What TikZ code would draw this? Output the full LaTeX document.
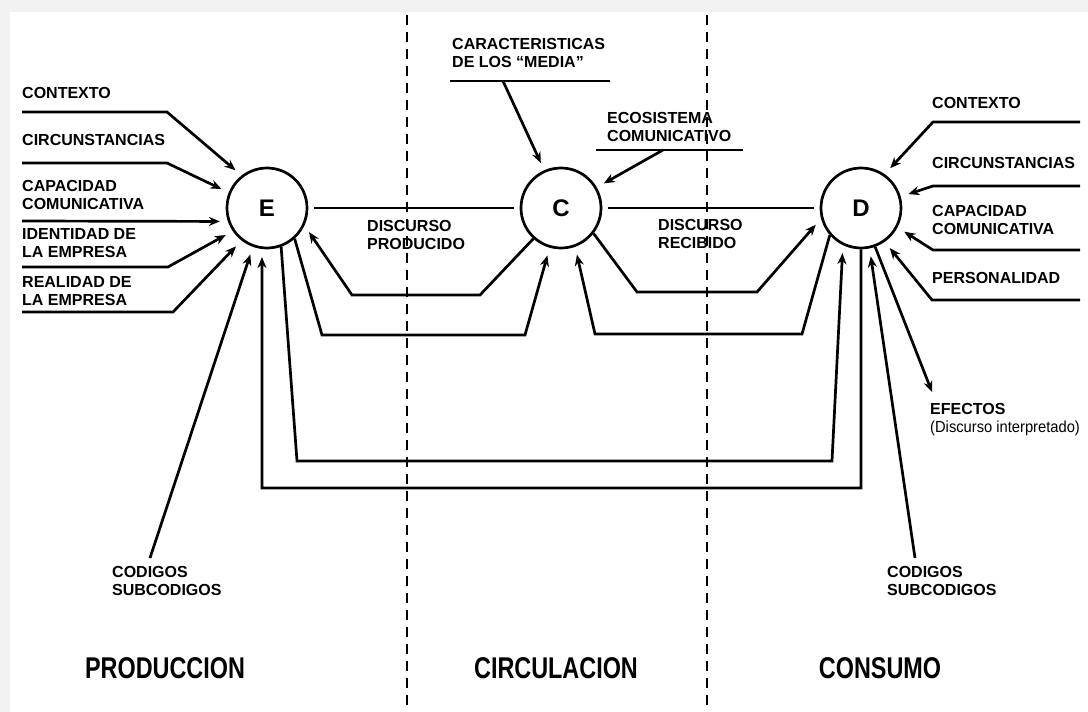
\documentclass[tikz,border=0pt]{standalone}
\usepackage{graphicx}
\usepackage{fontspec}
\setmainfont{Liberation Sans}
\usetikzlibrary{arrows.meta}

\begin{document}
\begin{tikzpicture}[x=1pt,y=-1pt,
    linea/.style={line width=2.7pt},
    flecha/.style={linea,-{Stealth[length=11pt,width=9pt]},shorten >=8pt},
    polo/.style={circle,draw,line width=2.7pt,minimum size=80pt,inner sep=0pt,
      font=\fontsize{24}{24}\selectfont\bfseries},
    etiq/.style={anchor=west,align=left,inner sep=0pt,
      font=\fontsize{16}{18}\selectfont\bfseries},
    fase/.style={inner sep=0pt,font=\fontsize{30}{30}\selectfont\bfseries},
    zona/.style={line width=2pt,dash pattern=on 10pt off 7pt}]

  % fondo y margenes
  \fill[gray!10] (0,0) rectangle (1088,712);
  \fill[white] (10,12) rectangle (1088,712);
  \useasboundingbox (0,0) rectangle (1088,712);

  % zonas
  \draw[zona] (407,15) -- (407,712);
  \draw[zona] (707,15) -- (707,712);

  % polos
  \node[polo] (E) at (267,208) {E};
  \node[polo] (C) at (561,208) {C};
  \node[polo] (D) at (861,208) {D};

  % etiquetas de E
  \node[etiq] (ctxI) at (22,93) {CONTEXTO};
  \node[etiq] (cirI) at (22,140) {CIRCUNSTANCIAS};
  \node[etiq] (capI) at (22,195) {CAPACIDAD\\COMUNICATIVA};
  \node[etiq] (ideI) at (22,243) {IDENTIDAD DE\\LA EMPRESA};
  \node[etiq] (reaI) at (22,291) {REALIDAD DE\\LA EMPRESA};
  \node[etiq] (codI) at (112,581) {CODIGOS\\SUBCODIGOS};

  % etiquetas de C
  \node[etiq] (carC) at (452,53) {CARACTERISTICAS\\DE LOS ``MEDIA''};
  \node[etiq] (ecoC) at (607,127) {ECOSISTEMA\\COMUNICATIVO};
  \node[etiq] (prod) at (367,235) {DISCURSO\\PRODUCIDO};
  \node[etiq] (reci) at (658,234) {DISCURSO\\RECIBIDO};

  % etiquetas de D
  \node[etiq] (ctxD) at (932,103) {CONTEXTO};
  \node[etiq] (cirD) at (932,163) {CIRCUNSTANCIAS};
  \node[etiq] (capD) at (932,220) {CAPACIDAD\\COMUNICATIVA};
  \node[etiq] (perD) at (932,278) {PERSONALIDAD};
  \node[etiq] (efeD) at (930,420) {EFECTOS\\{\mdseries\scalebox{0.92}[1]{(Discurso interpretado)}}};
  \node[etiq] (codD) at (887,581) {CODIGOS\\SUBCODIGOS};

  % fases
  \node[fase] (prodF) at (165,668) {\scalebox{0.78}[1]{PRODUCCION}};
  \node[fase] (circF) at (556,668) {\scalebox{0.78}[1]{CIRCULACION}};
  \node[fase] (consF) at (880,668) {\scalebox{0.78}[1]{CONSUMO}};

  % extremos libres
  \coordinate (ctxIl) at (22,112);
  \coordinate (cirIl) at (22,163);
  \coordinate (capIl) at (22,221);
  \coordinate (ideIl) at (22,267);
  \coordinate (reaIl) at (22,312);
  \coordinate (codIl) at (150,558);
  \coordinate (carCl) at (450,81);
  \coordinate (carCr) at (610,81);
  \coordinate (ecoCl) at (596,150);
  \coordinate (ecoCr) at (743,150);
  \coordinate (ctxDl) at (1080,122);
  \coordinate (cirDl) at (1080,186);
  \coordinate (capDl) at (1080,250);
  \coordinate (perDl) at (1080,300);
  \coordinate (efeDl) at (932,392);
  \coordinate (codDl) at (915,558);

  % entradas a E
  \draw[flecha] (ctxIl) -- (167,112) -- (E.128);
  \draw[flecha] (cirIl) -- (167,163) -- (E.158);
  \draw[flecha] (capIl) -- (E.199);
  \draw[flecha] (ideIl) -- (168,267) -- (E.214);
  \draw[flecha] (reaIl) -- (173,312) -- (E.232);
  \draw[flecha] (codIl) -- (E.250);

  % entradas a C
  \draw[linea] (carCl) -- (carCr);
  \draw[linea] (ecoCl) -- (ecoCr);
  \draw[flecha] (503,81) -- (C.114);
  \draw[flecha] (663,150) -- (C.30);

  % entradas a D
  \draw[flecha] (ctxDl) -- (933,122) -- (D.55);
  \draw[flecha] (cirDl) -- (933,186) -- (D.16);
  \draw[flecha] (capDl) -- (933,250) -- (D.332);
  \draw[flecha] (perDl) -- (932,300) -- (D.305);
  \draw[flecha] (codDl) -- (D.282);
  \draw[flecha,shorten >=0pt] (D.290) -- (efeDl);

  % discurso
  \draw[linea,shorten <=6pt,shorten >=6pt] (E) -- (C);
  \draw[linea,shorten <=6pt,shorten >=6pt] (C) -- (D);
  \draw[flecha] (C.228) -- (480,295) -- (352,295) -- (E.335);
  \draw[flecha] (E.312) -- (322,335) -- (525,335) -- (C.254);
  \draw[flecha] (C.322) -- (637,292) -- (757,292) -- (D.195);
  \draw[flecha] (D.221) -- (802,334) -- (595,334) -- (C.290);
  \draw[flecha] (E.290) -- (297,461) -- (832,461) -- (D.244);
  \draw[flecha] (D.270) -- (861,488) -- (262,488) -- (E.263);
\end{tikzpicture}
\end{document}
